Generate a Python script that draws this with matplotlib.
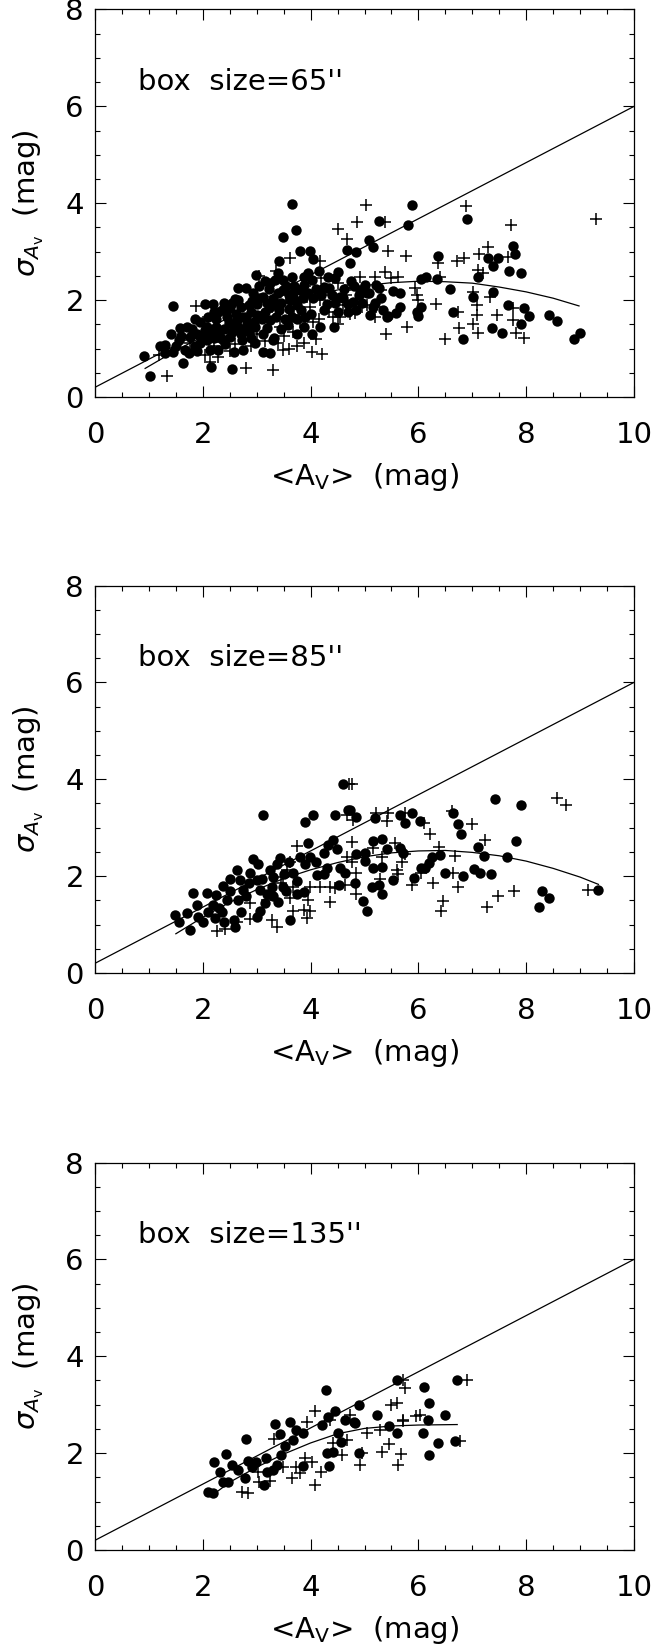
import matplotlib
matplotlib.use("Agg")
import matplotlib.pyplot as plt
import numpy as np
from matplotlib.ticker import MultipleLocator

plt.rcParams['font.family'] = ['DejaVu Sans']
plt.rcParams['mathtext.fontset'] = 'dejavusans'

# straight reference line
line_x = [0.0, 10.0]
line_y = [0.2, 6.0]

box_labels = ["box  size=65''", "box  size=85''", "box  size=135''"]

# ---------------- box size = 65"
p1_circ_x = [0.91, 1.02, 1.21, 1.30, 1.44, 1.41, 1.58, 1.56, 1.64, 1.75, 1.86, 2.04, 2.18, 2.04, 2.24, 2.16, 2.54, 2.29,
             2.57, 2.75, 2.97, 3.12, 3.25, 2.44, 2.35, 2.66, 2.81, 2.60, 2.93, 2.99, 3.15, 3.34, 3.49, 3.65, 3.87, 3.41,
             3.49, 3.66, 3.72, 3.80, 3.98, 4.04, 3.12, 3.25, 3.37, 3.49, 3.62, 3.68, 3.87, 4.02, 4.24, 4.33, 4.45, 4.51,
             4.67, 5.09, 5.15, 5.26, 3.82, 3.74, 3.87, 4.02, 4.17, 4.44, 4.24, 4.51, 4.70, 4.54, 4.85, 5.10, 5.27, 5.41,
             3.25, 3.06, 2.81, 2.63, 2.50, 2.72, 2.57, 2.75, 2.97, 3.12, 3.31, 1.95, 2.07, 1.76, 1.89, 2.13, 1.67, 1.45,
             2.29, 2.07,
             5.88, 5.80, 4.73, 6.91, 6.37, 6.14, 6.04, 6.35, 6.59, 7.10, 7.02, 7.38, 7.30, 7.38, 7.48, 7.69, 7.75, 7.79,
             7.90, 7.67, 7.96, 8.05, 7.90, 7.36, 7.56, 6.82, 6.64, 8.43, 8.57, 8.89, 8.99, 5.66, 5.53, 5.65, 5.44, 5.58,
             5.97, 6.00, 6.05, 5.22, 5.09, 4.92, 4.79, 4.85,
             2.30, 2.48, 2.62, 2.70, 2.82, 2.90, 3.00, 3.10, 3.20, 3.30, 3.42, 3.52, 3.60, 3.70, 3.80, 3.32, 3.58, 2.90,
             2.42, 2.20, 2.92, 3.22, 4.10, 4.30, 4.00, 4.62, 4.90, 5.00, 3.05, 3.40, 3.95, 4.15, 2.55, 2.70, 1.95, 1.70,
             1.85, 2.40, 3.45, 3.75, 4.40, 4.75, 5.20,
             1.60, 1.80, 1.90, 2.00, 2.10, 2.15, 2.25, 2.35, 2.45, 2.55, 2.65, 2.65, 2.75, 2.85, 2.85, 2.95, 3.00, 3.05,
             3.15, 3.20, 3.25, 3.35, 3.40, 3.45, 3.55, 3.60, 3.65, 3.70, 3.75, 3.85, 3.90, 3.95, 4.05, 4.20, 4.35, 4.45,
             4.60, 4.70, 4.80, 4.95, 5.05, 5.15, 5.30, 5.35, 2.50, 2.40, 2.20, 1.50, 1.30]
p1_circ_y = [0.85, 0.43, 1.05, 1.07, 1.88, 1.30, 1.42, 1.18, 0.71, 0.90, 1.62, 1.93, 1.93, 1.38, 1.45, 0.61, 0.57, 0.97,
             0.93, 0.97, 1.11, 0.93, 0.90, 1.79, 1.79, 2.24, 2.24, 2.03, 2.15, 2.52, 2.40, 2.41, 2.41, 2.47, 2.47, 2.81,
             3.31, 3.98, 3.44, 3.02, 3.02, 2.84, 2.07, 1.86, 1.93, 2.21, 2.00, 2.14, 2.31, 2.41, 2.27, 2.48, 2.45, 2.58,
             3.03, 3.24, 3.10, 3.64, 1.79, 1.62, 1.45, 1.31, 1.45, 1.44, 1.79, 1.76, 1.93, 2.07, 1.79, 1.70, 2.24, 1.66,
             1.59, 1.66, 1.66, 1.59, 1.24, 1.18, 1.45, 1.38, 1.45, 1.31, 1.18, 1.11, 1.18, 1.24, 1.31, 0.97, 0.97, 0.93,
             1.76, 1.45,
             3.96, 3.55, 2.77, 3.67, 2.91, 2.48, 2.43, 2.43, 2.23, 2.47, 2.06, 2.16, 2.86, 2.70, 2.86, 2.60, 3.11, 2.96,
             2.55, 1.90, 1.83, 1.68, 1.50, 1.42, 1.33, 1.19, 1.75, 1.70, 1.57, 1.20, 1.33, 2.14, 2.19, 1.86, 1.68, 1.73,
             1.76, 1.68, 1.86, 2.31, 2.14, 2.21, 1.97, 3.00,
             1.30, 1.52, 1.72, 1.30, 1.50, 1.75, 1.92, 1.60, 1.42, 2.02, 1.80, 1.62, 1.82, 2.02, 2.20, 1.22, 1.48, 1.22,
             1.10, 1.22, 1.98, 2.22, 2.22, 1.92, 1.72, 2.22, 2.10, 2.32, 2.30, 2.55, 2.55, 2.60, 1.95, 1.85, 1.55, 1.45,
             1.05, 1.40, 1.40, 1.30, 2.10, 2.40, 1.95,
             1.25, 1.40, 0.95, 1.25, 1.65, 1.35, 1.60, 1.20, 1.65, 1.35, 1.45, 2.00, 1.65, 1.35, 1.90, 1.55, 1.70, 2.05,
             1.75, 1.95, 2.35, 1.65, 2.15, 1.95, 2.30, 2.10, 1.65, 2.30, 1.90, 2.05, 1.65, 2.15, 2.05, 2.10, 2.25, 1.95,
             2.05, 1.75, 2.30, 1.95, 2.15, 1.85, 2.05, 1.80, 1.85, 1.95, 1.75, 1.05, 0.90]
p1_plus_x = [1.33, 1.18, 1.87, 2.81, 3.30, 3.61, 4.17, 4.51, 4.67, 4.87, 5.03, 5.38, 3.43, 3.68, 3.40, 3.49, 4.02, 4.22,
             3.87, 5.38, 4.92, 5.19, 4.73, 4.42, 4.73, 5.22, 5.40, 2.38, 2.29, 2.04, 2.13, 1.76, 3.93, 4.17, 3.99,
             6.88, 7.72, 9.29, 5.43, 5.77, 6.37, 6.71, 6.85, 7.13, 7.30, 7.67, 7.11, 7.20, 5.50, 5.63, 6.40, 5.94, 5.97,
             6.00, 6.33, 7.02, 7.08, 7.08, 7.45, 7.33, 7.75, 7.76, 7.02, 7.10, 7.82, 7.95, 6.76, 6.49, 5.78, 6.74, 4.82,
             5.20, 4.95,
             2.60, 3.00, 3.20, 3.55, 3.70, 3.90, 4.05, 4.30, 4.60, 4.50, 3.75, 4.10,
             2.20, 2.50, 2.90, 3.15, 3.50, 3.60, 3.80, 4.15, 4.35, 4.55, 4.65, 4.85, 5.05, 5.30, 4.20, 4.50, 3.35, 3.05,
             2.60, 2.00]
p1_plus_y = [0.43, 0.87, 1.88, 0.60, 0.56, 2.86, 2.81, 3.46, 3.27, 3.62, 3.97, 3.62, 1.45, 1.35, 1.11, 0.97, 0.93, 0.88,
             1.11, 2.58, 2.48, 2.48, 2.31, 1.66, 1.72, 1.86, 1.30, 1.14, 0.83, 0.87, 0.73, 1.11, 2.07, 2.00, 1.86,
             3.95, 3.55, 3.67, 3.02, 2.91, 2.76, 2.80, 2.87, 2.96, 3.10, 2.88, 2.62, 2.55, 2.45, 2.47, 2.47, 2.24, 2.10,
             2.00, 1.91, 2.17, 1.90, 1.69, 1.70, 2.07, 1.83, 1.59, 1.51, 1.33, 1.33, 1.21, 1.42, 1.19, 1.44, 1.75, 1.73,
             1.66, 1.86,
             1.10, 1.30, 1.75, 2.10, 1.70, 2.30, 1.55, 2.20, 1.90, 1.50, 1.05, 1.20,
             1.05, 0.95, 1.05, 1.15, 1.25, 1.00, 1.55, 1.60, 1.75, 1.65, 2.10, 2.00, 1.90, 2.20, 2.45, 2.35, 2.60, 2.50,
             1.60, 1.55]
p1_fit_x = [0.93, 1.5, 2.0, 2.5, 3.0, 3.5, 4.0, 4.5, 5.0, 5.5, 6.0, 6.5, 7.0, 7.5, 8.0, 8.5, 8.98]
p1_fit_y = [0.59, 0.96, 1.25, 1.50, 1.73, 1.92, 2.08, 2.21, 2.30, 2.36, 2.39, 2.38, 2.35, 2.27, 2.17, 2.04, 1.88]

# ---------------- box size = 85"
p2_circ_x = [1.48, 1.55, 1.71, 1.76, 1.82, 1.92, 2.01, 2.08, 2.18, 2.24, 2.23, 2.35, 2.38, 2.44, 2.50, 2.63, 2.60, 2.57,
             2.69, 2.75, 2.81, 2.88, 2.94, 3.03, 3.00, 3.06, 3.00, 3.06, 3.12, 3.19, 3.25, 3.31, 3.28, 3.37, 3.40, 3.43,
             3.49, 3.62, 3.68, 3.74, 3.80, 3.87, 3.90, 3.96, 3.99, 4.04, 4.11, 4.24, 4.30, 4.33, 4.42, 4.45, 4.49, 4.52,
             4.55, 4.61, 4.64, 4.70,
             4.84, 4.73, 5.20, 5.65, 5.75, 5.88, 6.03, 6.64, 6.73, 6.79, 7.43, 7.90, 7.82, 7.11, 7.22, 7.64, 6.41, 6.26,
             6.20, 6.12, 6.04, 6.49, 6.83, 7.03, 7.14, 7.34, 5.91, 5.52, 5.32, 5.15, 5.32, 5.13, 5.27, 4.97, 5.05, 4.82,
             4.84, 5.01, 5.01, 5.15, 5.32, 5.41, 5.66, 5.71, 8.30, 8.42, 8.24, 9.34,
             2.30, 2.50, 2.65, 2.70, 2.85, 3.10, 3.15, 3.30, 3.50, 3.55, 3.75, 3.90, 4.10, 4.25, 2.10, 1.90, 2.40, 3.60]
p2_circ_y = [1.20, 1.06, 1.23, 0.89, 1.66, 1.16, 1.06, 1.66, 1.40, 1.61, 1.13, 1.25, 1.80, 1.51, 1.95, 2.13, 0.96, 1.09,
             1.92, 1.71, 1.58, 2.06, 2.35, 2.26, 1.92, 1.71, 1.16, 1.27, 3.26, 1.64, 2.13, 1.99, 1.78, 2.26, 1.47, 2.37,
             1.78, 1.09, 2.06, 1.64, 2.40, 1.68, 3.12, 2.68, 2.40, 3.26, 2.02, 2.48, 2.16, 2.64, 2.75, 3.26, 2.57, 1.82,
             2.16, 3.91, 2.06, 3.36,
             3.23, 3.36, 3.19, 3.26, 3.09, 3.30, 3.14, 3.31, 3.07, 2.86, 3.59, 3.47, 2.73, 2.61, 2.41, 2.40, 2.44, 2.40,
             2.28, 2.16, 2.16, 2.06, 2.00, 2.14, 2.07, 2.04, 1.97, 1.92, 2.19, 2.17, 1.64, 1.78, 1.82, 1.49, 1.27, 1.86,
             2.46, 2.48, 2.31, 2.72, 2.77, 2.55, 2.59, 2.48, 1.69, 1.55, 1.37, 1.71,
             1.35, 1.70, 1.50, 1.25, 1.85, 1.95, 1.45, 1.60, 2.05, 1.70, 1.90, 2.25, 2.30, 2.05, 1.25, 1.40, 1.05, 2.30]
p2_plus_x = [2.26, 2.41, 2.63, 2.88, 3.28, 3.37, 3.61, 3.67, 3.74, 3.87, 3.93, 3.99, 3.96, 3.99, 4.17, 4.36, 4.36, 4.45,
             4.64, 4.72, 4.67, 4.67, 3.49, 3.56, 3.46, 3.62, 3.19, 2.88, 3.68,
             4.76, 4.79, 4.76, 5.21, 5.44, 5.42, 5.75, 6.10, 6.21, 6.63, 6.99, 6.39, 6.67, 7.23, 8.57, 8.74, 9.15, 7.78,
             7.48, 7.27, 6.74, 6.65, 6.45, 6.42, 6.28, 5.89, 6.05, 5.60, 5.63, 5.69, 5.75, 5.57, 5.32, 5.16, 4.85, 4.85,
             5.29, 4.76]
p2_plus_y = [0.87, 0.90, 1.05, 1.11, 1.09, 0.94, 1.54, 1.27, 2.62, 1.30, 1.13, 1.27, 1.51, 1.78, 1.78, 1.47, 1.78, 1.75,
             1.82, 3.91, 2.40, 3.26, 1.99, 2.13, 1.85, 2.30, 1.51, 1.44, 1.78,
             3.91, 3.16, 2.71, 3.30, 3.30, 3.14, 3.30, 3.09, 2.86, 3.34, 3.07, 2.61, 2.41, 2.74, 3.61, 3.47, 1.71, 1.69,
             1.58, 1.37, 1.77, 2.07, 1.49, 1.27, 1.86, 1.82, 2.06, 2.13, 2.04, 2.30, 2.46, 2.68, 2.40, 2.59, 2.06, 1.64,
             1.95, 2.30]
p2_fit_x = [1.5, 2.0, 2.5, 3.0, 3.5, 4.0, 4.5, 5.0, 5.5, 6.0, 6.5, 7.0, 7.5, 8.0, 8.5, 9.0, 9.34]
p2_fit_y = [0.81, 1.15, 1.46, 1.72, 1.95, 2.13, 2.28, 2.40, 2.48, 2.52, 2.53, 2.49, 2.42, 2.31, 2.16, 1.98, 1.83]

# ---------------- box size = 135"
p3_circ_x = [2.10, 2.18, 2.20, 2.31, 2.43, 2.38, 2.47, 2.55, 2.66, 2.78, 2.81, 2.83, 2.91, 2.99, 3.14, 3.17, 3.19, 3.31,
             3.38, 3.46, 3.53, 3.43, 3.68, 3.73, 3.85, 3.85, 4.22, 4.30, 4.41, 4.35, 4.51, 4.56, 4.90, 5.46, 5.61, 6.09,
             6.36, 6.19, 6.68, 4.82, 3.34,
             3.62, 4.28, 4.33, 4.46, 4.63, 4.81, 4.89, 5.24, 5.61, 6.10, 6.20, 6.17, 6.49, 6.72]
p3_circ_y = [1.20, 1.18, 1.82, 1.62, 1.98, 1.41, 1.41, 1.75, 1.66, 1.48, 2.29, 1.84, 1.72, 1.82, 1.34, 1.89, 1.62, 1.65,
             1.75, 1.96, 2.15, 2.39, 2.27, 2.48, 2.42, 1.73, 2.58, 2.00, 2.02, 1.73, 2.41, 2.22, 2.01, 2.55, 2.41, 2.42,
             2.20, 1.97, 2.26, 2.63, 2.61,
             2.65, 3.30, 2.75, 2.86, 2.68, 2.65, 2.99, 2.79, 3.52, 3.37, 3.04, 2.68, 2.79, 3.52]
p3_plus_x = [2.72, 2.83, 3.05, 3.24, 3.03, 3.65, 3.80, 3.49, 3.73, 3.90, 4.02, 4.08, 4.20, 4.58, 4.68, 4.42, 4.92, 4.95,
             5.32, 5.46, 5.63, 5.67, 5.05, 5.29, 6.78, 3.93, 3.32, 5.72,
             4.08, 4.36, 4.73, 5.75, 5.50, 5.60, 5.71, 5.95, 6.03, 6.90, 5.72]
p3_plus_y = [1.20, 1.18, 1.41, 1.42, 1.62, 1.48, 1.60, 1.72, 1.72, 1.89, 1.82, 1.34, 1.62, 1.96, 2.27, 2.20, 1.75, 2.01,
             2.03, 2.19, 1.75, 1.98, 2.42, 2.48, 2.26, 2.65, 2.30, 2.66,
             2.86, 2.68, 2.79, 3.34, 2.99, 3.04, 2.68, 2.77, 2.79, 3.51, 3.52]
p3_fit_x = [2.2, 2.5, 3.0, 3.5, 4.0, 4.5, 5.0, 5.5, 6.0, 6.72]
p3_fit_y = [1.15, 1.40, 1.71, 1.98, 2.21, 2.40, 2.51, 2.56, 2.58, 2.59]

panels = [
    (p1_circ_x, p1_circ_y, p1_plus_x, p1_plus_y, p1_fit_x, p1_fit_y),
    (p2_circ_x, p2_circ_y, p2_plus_x, p2_plus_y, p2_fit_x, p2_fit_y),
    (p3_circ_x, p3_circ_y, p3_plus_x, p3_plus_y, p3_fit_x, p3_fit_y),
]

W, H = 654, 1647
fig = plt.figure(figsize=(W / 100, H / 100), dpi=100)

ax_left, ax_w, ax_h = 95 / W, 539 / W, 387.5 / H
bottoms_px = [397, 973, 1550]

for i, (cx, cy, px, py, fx, fy) in enumerate(panels):
    ax = fig.add_axes([ax_left, 1 - bottoms_px[i] / H, ax_w, ax_h])
    ax.plot(line_x, line_y, color='k', lw=0.9)
    ax.plot(fx, fy, color='k', lw=0.9)
    ax.plot(px, py, linestyle='none', marker='+', ms=8, mew=1.1, color='k')
    ax.plot(cx, cy, linestyle='none', marker='o', ms=7.5, mew=0, color='k')
    ax.text(0.79, 6.5, box_labels[i], fontsize=21, va='center', ha='left')

    ax.set_xlim(0, 10)
    ax.set_ylim(0, 8)
    ax.xaxis.set_major_locator(MultipleLocator(2))
    ax.xaxis.set_minor_locator(MultipleLocator(0.5))
    ax.yaxis.set_major_locator(MultipleLocator(2))
    ax.yaxis.set_minor_locator(MultipleLocator(0.5))
    ax.tick_params(which='both', direction='in', top=True, right=True, width=0.8)
    ax.tick_params(which='major', length=8)
    ax.tick_params(which='minor', length=3.6)
    ax.tick_params(axis='x', labelsize=21, pad=17)
    ax.tick_params(axis='y', labelsize=21, pad=8)
    for s in ax.spines.values():
        s.set_linewidth(0.9)
    ax.set_xlabel(r'<A$_\mathrm{V}$>  (mag)', fontsize=21, labelpad=9)
    ax.set_ylabel(r'$\sigma_{A_\mathrm{v}}$  (mag)', fontsize=21, labelpad=14)

fig.savefig('out.png', dpi=100)
